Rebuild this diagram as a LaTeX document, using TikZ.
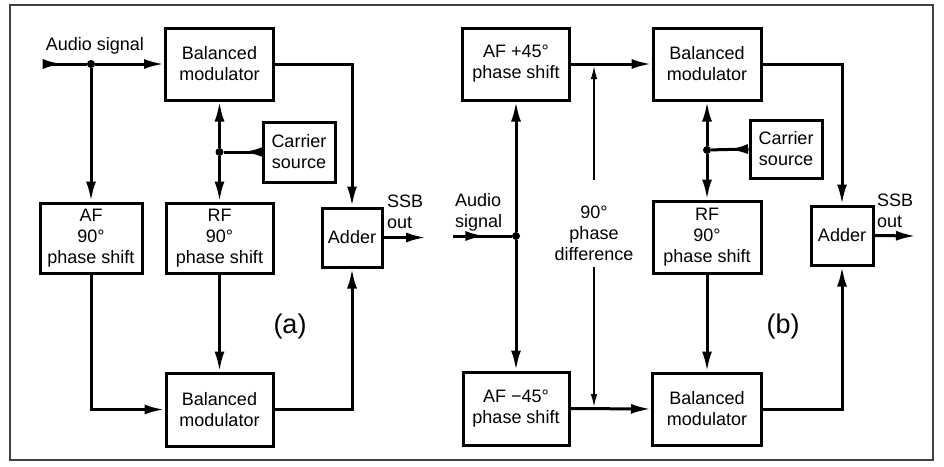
\documentclass[tikz,border=0pt]{standalone}
\usepackage{fontspec}
\setmainfont{Liberation Sans}
\usetikzlibrary{arrows.meta,decorations.markings,calc}
\begin{document}
\begin{tikzpicture}[x=1pt,y=-1pt,
  every node/.style={font=\fontsize{18}{21}\selectfont, align=center, inner sep=0pt},
  blk/.style={draw, line width=3pt, minimum width=#1},
  conn/.style={line width=3pt},
  tipend/.style={-{Latex[length=20pt,width=10pt]}},
  midarrow/.style={postaction={decorate}, decoration={markings, mark=at position #1 with {\arrow{Latex[length=20pt,width=10pt]}}}},
  thinarrow/.style={line width=1.5pt, -{Latex[length=13pt,width=6.5pt]}},
  dotc/.style={circle, fill, minimum size=8pt, inner sep=0pt},
  lbl/.style={font=\fontsize{27}{30}\selectfont}
]
\useasboundingbox[fill=white] (0,0) rectangle (944,466);
\draw[line width=1.8pt, black!75] (10,5) rectangle (933,460);

% ---------------- (a) ----------------
\node[blk=108pt, minimum height=72pt] (bmA1) at (219.5,64) {Balanced\\modulator};
\node[blk=102pt, minimum height=70pt] (afA) at (91,238) {AF\\90°\\phase shift};
\node[blk=107pt, minimum height=70pt] (rfA) at (219.5,238) {RF\\90°\\phase shift};
\node[blk=72pt, minimum height=60pt] (carA) at (299,152) {Carrier\\source};
\node[blk=60pt, minimum height=59pt] (addA) at (352,237.5) {Adder};
\node[blk=107pt, minimum height=73pt] (bmA2) at (219.5,409.5) {Balanced\\modulator};
\node (audA) at (95,46) {Audio signal};
\node[anchor=west, align=left] (ssbA) at (387,212) {SSB\\out};
\node[lbl] (labA) at (290,327) {(a)};

\node[dotc] (dotA1) at (91,64) {};
\node[dotc] (dotA2) at (219.5,152) {};
\coordinate (inA) at (43,64);
\coordinate (outA) at (426,237.5);

\draw[conn, midarrow=0.45] (inA) -- (dotA1);
\draw[conn, tipend] (dotA1) -- (bmA1.west);
\draw[conn, tipend] (dotA1) -- (afA.north);
\draw[conn, tipend] (bmA1.east) -| (addA.north);
\draw[conn, midarrow=0.5] (carA.west) -- (dotA2);
\draw[conn, tipend] (dotA2) -- (bmA1.south);
\draw[conn, tipend] (dotA2) -- (rfA.north);
\draw[conn, tipend] (afA.south) |- (bmA2.west);
\draw[conn, tipend] (rfA.south) -- (bmA2.north);
\draw[conn, tipend] (bmA2.east) -| (addA.south);
\draw[conn, tipend] (addA.east) -- (outA);

% ---------------- (b) ----------------
\node[blk=107pt, minimum height=72pt] (afP) at (516,64) {AF +45°\\phase shift};
\node[blk=108pt, minimum height=72pt] (bmB1) at (707,64) {Balanced\\modulator};
\node[blk=72pt, minimum height=58pt] (carB) at (786,149) {Carrier\\source};
\node[blk=108pt, minimum height=72pt] (rfB) at (707,237) {RF\\90°\\phase shift};
\node[blk=62pt, minimum height=59pt] (addB) at (842,235.5) {Adder};
\node[blk=106pt, minimum height=73pt] (afM) at (516,408.5) {AF −45°\\phase shift};
\node[blk=109pt, minimum height=72pt] (bmB2) at (707,409) {Balanced\\modulator};
\node[anchor=west, align=left] (audB) at (455,212) {Audio\\signal};
\node[anchor=west, align=left] (ssbB) at (877,211) {SSB\\out};
\node (pd) at (594,233) {90°\\phase\\difference};
\node[lbl] (labB) at (783,327) {(b)};

\node[dotc] (dotB1) at (516,236) {};
\node[dotc] (dotB2) at (707,150) {};
\coordinate (inB) at (453,236);
\coordinate (outB) at (916,236);
\coordinate (pdUpS) at (594,180);
\coordinate (pdUpE) at (594,66);
\coordinate (pdDnS) at (594,267);
\coordinate (pdDnE) at (594,407);

\draw[conn, tipend] (afP.east) -- (bmB1.west);
\draw[conn, tipend] (bmB1.east) -| (addB.north);
\draw[conn, midarrow=0.55] (carB.west) -- (dotB2);
\draw[conn, tipend] (dotB2) -- (bmB1.south);
\draw[conn, tipend] (dotB2) -- (rfB.north);
\draw[conn, tipend] (rfB.south) -- (bmB2.north);
\draw[conn, tipend] (bmB2.east) -| (addB.south);
\draw[conn, tipend] (addB.east) -- (outB);
\draw[conn, midarrow=0.55] (inB) -- (dotB1);
\draw[conn, tipend] (dotB1) -- (afP.south);
\draw[conn, tipend] (dotB1) -- (afM.north);
\draw[conn, tipend] (afM.east) -- (bmB2.west);
\draw[thinarrow] (pdUpS) -- (pdUpE);
\draw[thinarrow] (pdDnS) -- (pdDnE);
\end{tikzpicture}
\end{document}
